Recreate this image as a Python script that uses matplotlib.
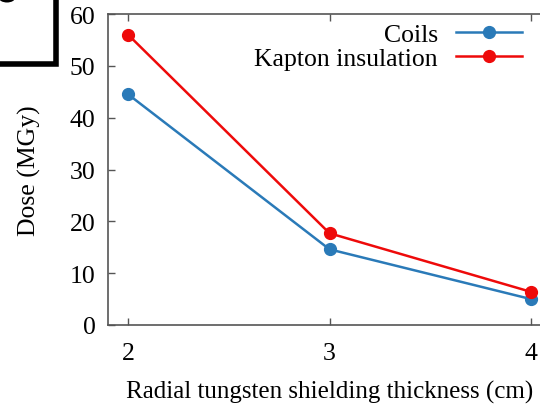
import matplotlib
matplotlib.use("Agg")
import matplotlib.pyplot as plt
from matplotlib.patches import Rectangle, Ellipse

thickness_cm = [2, 3, 4]
dose_coils = [44.5, 14.6, 5.0]
dose_kapton = [56.0, 17.7, 6.4]
y_ticks = [0, 10, 20, 30, 40, 50, 60]
x_ticks = [2, 3, 4]

plt.rcParams['font.family'] = ['Liberation Serif', 'DejaVu Serif']
plt.rcParams['mathtext.fontset'] = 'stix'

W, H = 540, 406
fs = 18.5
fig = plt.figure(figsize=(W / 100, H / 100), dpi=100)

# axes extend past the right edge of the canvas
ax = fig.add_axes([108 / W, 80 / H, 443 / W, 311 / H])

blue = '#2a7ab8'
red = '#ee0a0a'
ax.plot(thickness_cm, dose_coils, '-o', color=blue, lw=1.8, ms=8.5,
        label='Coils', clip_on=False, zorder=3)
ax.plot(thickness_cm, dose_kapton, '-o', color=red, lw=1.8, ms=8.5,
        label='Kapton insulation', clip_on=False, zorder=3)

ax.set_xlim(1.9, 4.1)
ax.set_ylim(0, 60)
ax.set_xticks(x_ticks)
ax.set_yticks(y_ticks)

spine_col = '#555555'
for s in ax.spines.values():
    s.set_color(spine_col)
    s.set_linewidth(1.2)
ax.tick_params(direction='in', length=5, width=1.0, color=spine_col,
               labelsize=fs, top=True, right=True, labelcolor='black')
ax.tick_params(axis='y', pad=9)
ax.tick_params(axis='x', pad=12)

ax.set_xlabel('Radial tungsten shielding thickness (cm)', fontsize=18, labelpad=12)
ax.set_ylabel('Dose (MGy)', fontsize=fs, labelpad=21)

leg = ax.legend(loc='upper right', bbox_to_anchor=(423 / 443 + 0.004, 1.005),
                frameon=False, fontsize=fs, markerfirst=False,
                handlelength=2.6, handletextpad=0.7, labelspacing=0.05,
                borderaxespad=0.0)
for t in leg.get_texts():
    t.set_ha('right')

# panel label frame, partly off the canvas
fig.patches.append(Rectangle((-40 / W, (H - 65) / H), 96 / W, 100 / H,
                             transform=fig.transFigure, fill=False,
                             edgecolor='black', linewidth=4, clip_on=False))
fig.patches.append(Ellipse((7 / W, (H + 1) / H), 16 / W, 9 / H,
                           transform=fig.transFigure, facecolor='black',
                           edgecolor='none'))

fig.savefig('out.png', dpi=100)
